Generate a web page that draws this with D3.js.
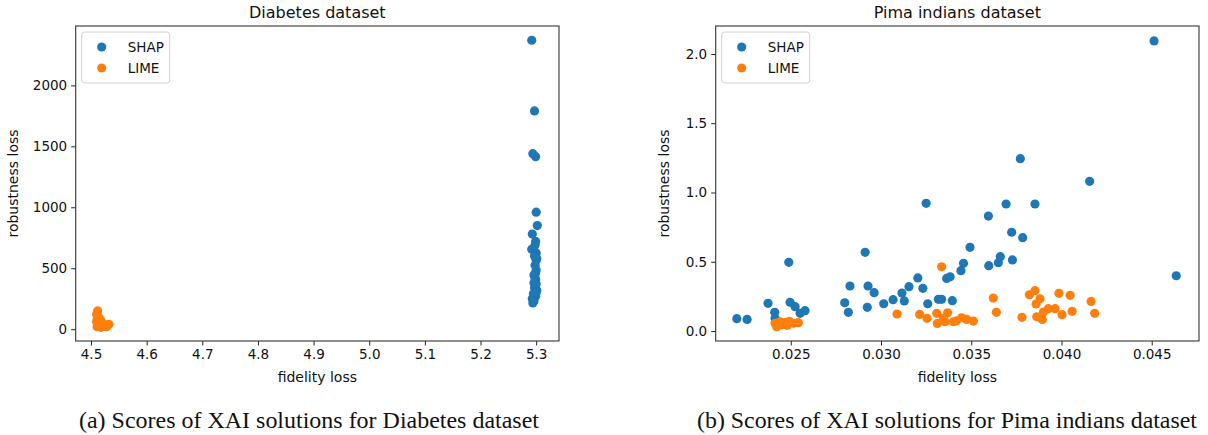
<!DOCTYPE html>
<html>
<head>
<meta charset="utf-8">
<script src="https://cdn.jsdelivr.net/npm/d3@7"></script>
<style>
  html, body { margin: 0; padding: 0; background: #fff; }
  svg text { font-family: "DejaVu Sans", sans-serif; }
</style>
</head>
<body>
<svg id="chart" width="1208" height="435"></svg>
<script>
// ---------- DATA ----------
const seriesNames = ["SHAP", "LIME"];

const diabetesShap = [
  [5.292, 2370], [5.297, 1790], [5.294, 1440], [5.299, 1415], [5.300, 960],
  [5.302, 850], [5.293, 780], [5.299, 720], [5.292, 655], [5.300, 625],
  [5.297, 600], [5.300, 565], [5.298, 525], [5.300, 485], [5.296, 445],
  [5.299, 405], [5.300, 370], [5.297, 340], [5.301, 320], [5.295, 290],
  [5.299, 270], [5.293, 250], [5.296, 232], [5.294, 215], [5.300, 300],
  [5.298, 420], [5.301, 580], [5.299, 460], [5.296, 380], [5.298, 690]
];
const diabetesLime = [
  [4.512, 150], [4.510, 120], [4.513, 100], [4.511, 80], [4.515, 92],
  [4.518, 70], [4.510, 60], [4.514, 50], [4.520, 45], [4.516, 40],
  [4.512, 30], [4.525, 35], [4.530, 30], [4.528, 20], [4.532, 40],
  [4.522, 25], [4.511, 20], [4.518, 15]
];

const pimaShap = [
  [0.02201, 0.089], [0.02258, 0.084], [0.02374, 0.200], [0.02411, 0.135], [0.02413, 0.092],
  [0.02489, 0.496], [0.02496, 0.207], [0.02524, 0.176], [0.02552, 0.128], [0.02579, 0.147],
  [0.02799, 0.204], [0.02819, 0.135], [0.02828, 0.325], [0.02912, 0.568], [0.02924, 0.171],
  [0.02928, 0.325], [0.02962, 0.277], [0.03015, 0.197], [0.03067, 0.226], [0.03116, 0.274],
  [0.03129, 0.217], [0.03155, 0.320], [0.03204, 0.383], [0.03232, 0.308], [0.03250, 0.922],
  [0.03259, 0.197], [0.03318, 0.229], [0.03336, 0.229], [0.03364, 0.380], [0.03383, 0.392],
  [0.03395, 0.219], [0.03443, 0.436], [0.03457, 0.489], [0.03493, 0.604], [0.03595, 0.830],
  [0.03597, 0.472], [0.03650, 0.493], [0.03661, 0.537], [0.03693, 0.917], [0.03724, 0.713],
  [0.03728, 0.513], [0.03772, 1.244], [0.03785, 0.674], [0.03853, 0.917], [0.04156, 1.081],
  [0.04513, 2.094], [0.04636, 0.399]
];
const pimaLime = [
  [0.02413, 0.056], [0.02441, 0.067], [0.02468, 0.060], [0.02492, 0.070], [0.02514, 0.056],
  [0.02542, 0.060], [0.02422, 0.031], [0.02481, 0.041], [0.02450, 0.045],
  [0.03089, 0.123], [0.03214, 0.120], [0.03255, 0.092], [0.03309, 0.128], [0.03312, 0.055],
  [0.03336, 0.464], [0.03346, 0.092], [0.03355, 0.067], [0.03369, 0.132], [0.03401, 0.067],
  [0.03419, 0.074], [0.03447, 0.096], [0.03475, 0.084], [0.03512, 0.072],
  [0.03622, 0.238], [0.03639, 0.135], [0.03781, 0.099], [0.03822, 0.262], [0.03853, 0.291],
  [0.03859, 0.195], [0.03863, 0.103], [0.03881, 0.233], [0.03894, 0.084], [0.03900, 0.137],
  [0.03927, 0.161], [0.03964, 0.161], [0.03986, 0.272], [0.04003, 0.118], [0.04048, 0.258],
  [0.04059, 0.142], [0.04164, 0.214], [0.04184, 0.128]
];

const diabetesXTicks = [4.5, 4.6, 4.7, 4.8, 4.9, 5.0, 5.1, 5.2, 5.3];
const diabetesYTicks = [0, 500, 1000, 1500, 2000];
const pimaXTicks = [0.025, 0.030, 0.035, 0.040, 0.045];
const pimaYTicks = [0.0, 0.5, 1.0, 1.5, 2.0];

const titles = ["Diabetes dataset", "Pima indians dataset"];
const captions = ["(a) Scores of XAI solutions for Diabetes dataset",
                  "(b) Scores of XAI solutions for Pima indians dataset"];

// ---------- DRAW ----------
const colors = ["#1f77b4", "#ff7f0e"];
const svg = d3.select("#chart");
const TICK_FS = 13.5, LABEL_FS = 14, TITLE_FS = 16;

function panel(cfg) {
  const x = d3.scaleLinear().domain(cfg.xDomain).range([cfg.left, cfg.right]);
  const y = d3.scaleLinear().domain(cfg.yDomain).range([cfg.bottom, cfg.top]);
  const g = svg.append("g");

  // points
  [cfg.shap, cfg.lime].forEach((data, i) => {
    g.append("g").selectAll("circle").data(data).enter().append("circle")
      .attr("cx", d => x(d[0])).attr("cy", d => y(d[1]))
      .attr("r", 4.6).attr("fill", colors[i]);
  });

  // axes
  const xAxis = d3.axisBottom(x).tickValues(cfg.xTicks).tickFormat(cfg.xFmt).tickSizeOuter(0).tickSize(4.5).tickPadding(4);
  const yAxis = d3.axisLeft(y).tickValues(cfg.yTicks).tickFormat(cfg.yFmt).tickSizeOuter(0).tickSize(4.5).tickPadding(4);
  const gx = g.append("g").attr("transform", `translate(0,${cfg.bottom})`).call(xAxis);
  const gy = g.append("g").attr("transform", `translate(${cfg.left},0)`).call(yAxis);
  [gx, gy].forEach(a => {
    a.select(".domain").remove();
    a.selectAll("line").attr("stroke", "#222").attr("stroke-width", 1);
    a.selectAll("text").attr("font-size", TICK_FS).attr("fill", "#111")
      .style("font-family", "DejaVu Sans, sans-serif");
  });

  // frame
  g.append("rect").attr("x", cfg.left).attr("y", cfg.top)
    .attr("width", cfg.right - cfg.left).attr("height", cfg.bottom - cfg.top)
    .attr("fill", "none").attr("stroke", "#333").attr("stroke-width", 1.1);

  // title
  g.append("text").attr("x", (cfg.left + cfg.right) / 2).attr("y", 18)
    .attr("text-anchor", "middle").attr("font-size", TITLE_FS).attr("fill", "#111").text(cfg.title);
  // x label
  g.append("text").attr("x", (cfg.left + cfg.right) / 2).attr("y", 382)
    .attr("text-anchor", "middle").attr("font-size", LABEL_FS).attr("fill", "#111").text("fidelity loss");
  // y label
  g.append("text").attr("transform", `translate(${cfg.ylabX},${(cfg.top + cfg.bottom) / 2}) rotate(-90)`)
    .attr("text-anchor", "middle").attr("font-size", LABEL_FS).attr("fill", "#111").text("robustness loss");

  // legend
  const lg = g.append("g").attr("transform", `translate(${cfg.left + 6},${cfg.top + 6})`);
  lg.append("rect").attr("width", 88).attr("height", 51).attr("rx", 3)
    .attr("fill", "#fff").attr("fill-opacity", 0.8).attr("stroke", "#d0d0d0").attr("stroke-width", 1);
  seriesNames.forEach((n, i) => {
    lg.append("circle").attr("cx", 20).attr("cy", 15 + i * 21).attr("r", 4.6).attr("fill", colors[i]);
    lg.append("text").attr("x", 46).attr("y", 15 + i * 21).attr("dy", "0.35em")
      .attr("font-size", TICK_FS).attr("fill", "#111").text(n);
  });

  // caption
  svg.append("text").attr("x", cfg.capX).attr("y", 428)
    .attr("text-anchor", "middle").attr("font-size", 23)
    .attr("textLength", cfg.capW).attr("lengthAdjust", "spacingAndGlyphs")
    .style("font-family", "Liberation Serif, 'Times New Roman', serif")
    .attr("fill", "#111").text(cfg.caption);
}

panel({
  left: 75.7, right: 559, top: 26, bottom: 341,
  xDomain: [4.4725, 5.341], yDomain: [-97, 2487],
  shap: diabetesShap, lime: diabetesLime,
  xTicks: diabetesXTicks, yTicks: diabetesYTicks,
  xFmt: d3.format(".1f"), yFmt: d3.format("d"),
  title: titles[0], caption: captions[0], capX: 309, capW: 460, ylabX: 18
});

panel({
  left: 715.7, right: 1199, top: 26, bottom: 341,
  xDomain: [0.02084, 0.04762], yDomain: [-0.072, 2.202],
  shap: pimaShap, lime: pimaLime,
  xTicks: pimaXTicks, yTicks: pimaYTicks,
  xFmt: d3.format(".3f"), yFmt: d3.format(".1f"),
  title: titles[1], caption: captions[1], capX: 947, capW: 500, ylabX: 669
});
</script>
</body>
</html>
